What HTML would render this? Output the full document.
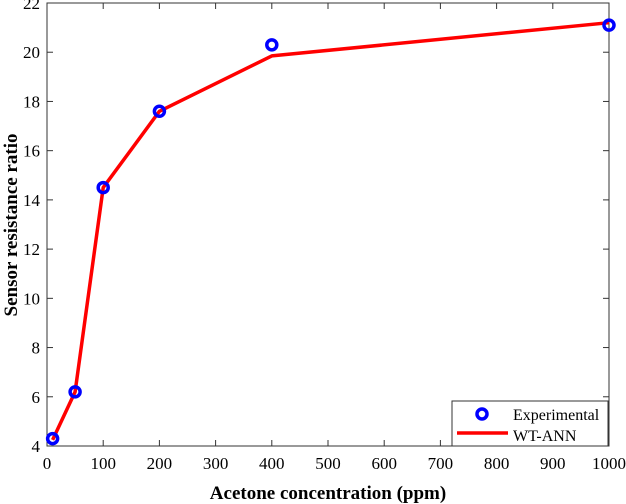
<!DOCTYPE html>
<html><head><meta charset="utf-8"><style>body{margin:0;background:#fff}svg{display:block;font-family:"Liberation Serif",serif}</style></head>
<body>
<svg id="c" width="626" height="504"></svg>
<script>
const xTicks=[0,100,200,300,400,500,600,700,800,900,1000];
const yTicks=[4,6,8,10,12,14,16,18,20,22];
const expX=[10,50,100,200,400,1000];
const expY=[4.3,6.2,14.5,17.6,20.3,21.1];
const annX=[10,50,100,200,400,1000];
const annY=[4.25,6.2,14.5,17.6,19.85,21.2];
const L=47,R=609,T=3,B=446;
const sx=v=>L+(v-0)/(1000-0)*(R-L);
const sy=v=>B-(v-4)/(22-4)*(B-T);
const svg=document.getElementById('c');
const NS='http://www.w3.org/2000/svg';
function mk(t,a,p){const e=document.createElementNS(NS,t);for(const k in a)e.setAttribute(k,a[k]);(p||svg).appendChild(e);return e;}
let e;
e=mk('rect',{x:L,y:T,width:R-L,height:B-T,fill:'none',stroke:'#333','stroke-width':1});


xTicks.forEach(v=>{const x=sx(v);
 mk('line',{x1:x,x2:x,y1:B,y2:B-6,stroke:'#333'});mk('line',{x1:x,x2:x,y1:T,y2:T+6,stroke:'#333'});
 e=mk('text',{x:x,y:B+23,'text-anchor':'middle','font-size':17});e.textContent=v;
 
 });
yTicks.forEach(v=>{const y=sy(v);
 mk('line',{x1:L,x2:L+6,y1:y,y2:y,stroke:'#333'});mk('line',{x1:R,x2:R-6,y1:y,y2:y,stroke:'#333'});
 e=mk('text',{x:L-7,y:y+6,'text-anchor':'end','font-size':17});e.textContent=v;
 
 });
e=mk('text',{x:328,y:499,'text-anchor':'middle','font-size':19,'font-weight':'bold'});e.textContent='Acetone concentration (ppm)';


e=mk('text',{x:0,y:0,'text-anchor':'middle','font-size':19,'font-weight':'bold',transform:'translate(17,225) rotate(-90)'});e.textContent='Sensor resistance ratio';


e=mk('polyline',{points:annX.map((v,i)=>sx(v)+','+sy(annY[i])).join(' '),fill:'none',stroke:'#ff0000','stroke-width':3.5,'stroke-linejoin':'round'});


expX.forEach((v,i)=>{e=mk('circle',{cx:sx(v),cy:sy(expY[i]),r:5,fill:'none',stroke:'#0000ff','stroke-width':3.5});
 
 });
const g=mk('g',{});


mk('rect',{x:452,y:401,width:156,height:45,fill:'#fff',stroke:'#333'},g);
mk('circle',{cx:482,cy:414,r:5,fill:'none',stroke:'#0000ff','stroke-width':3.5},g);
e=mk('text',{x:513,y:420,'font-size':16},g);e.textContent='Experimental';


mk('line',{x1:457,x2:508,y1:433,y2:433,stroke:'#ff0000','stroke-width':3.5},g);
e=mk('text',{x:513,y:441,'font-size':16},g);e.textContent='WT-ANN';


</script>
</body></html>
